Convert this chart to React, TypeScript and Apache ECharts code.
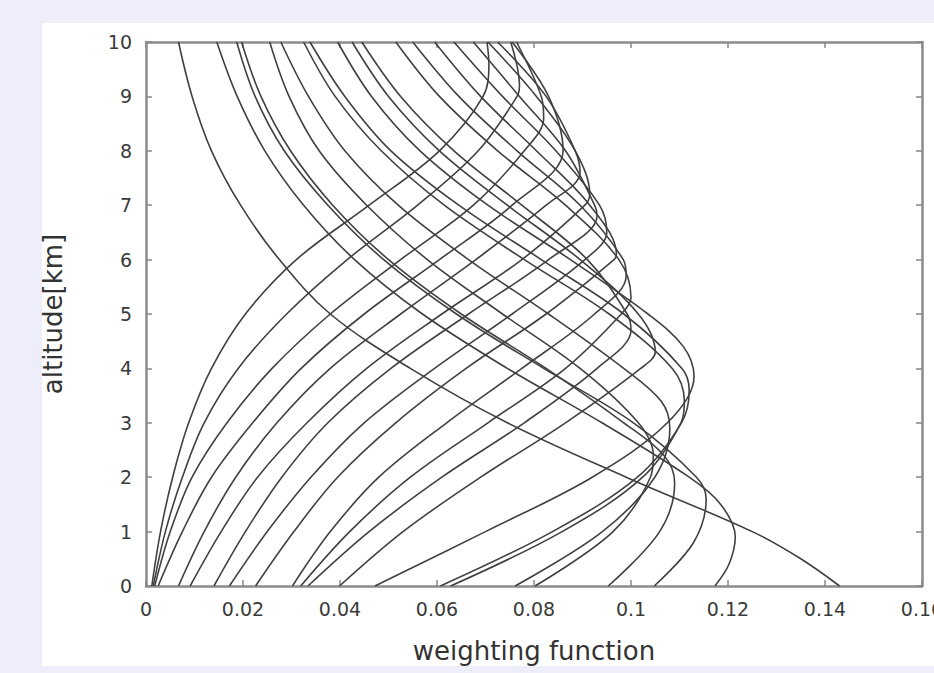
import React, { useEffect, useRef } from "react";
import * as echarts from "echarts";

// Weighting function curves: [weight, altitude km]
const curveA = [[0.143,0],[0.135,0.5],[0.125,1],[0.099,2],[0.0745,3],[0.0545,4],[0.038,5],[0.0275,6],[0.0195,7],[0.0135,8],[0.0095,9],[0.0067,10]];
const curve01 = [[0.1173,0],[0.1202,0.4],[0.1215,0.9],[0.1185,1.5],[0.112,2],[0.094,3],[0.0745,4],[0.057,5],[0.043,6],[0.0325,7],[0.0245,8],[0.0188,9],[0.0146,10]];
const curve02 = [[0.1048,0],[0.1129,0.8],[0.1155,1.6],[0.1135,2],[0.1005,3],[0.082,4],[0.064,5],[0.049,6],[0.0375,7],[0.0285,8],[0.0225,9],[0.0187,10]];
const curve03 = [[0.0953,0],[0.1059,1],[0.109,1.9],[0.1068,2.4],[0.0985,3],[0.0825,4],[0.065,5],[0.05,6],[0.0385,7],[0.0298,8],[0.0237,9],[0.0197,10]];
const curve04 = [[0.0802,0],[0.0963,1],[0.104,2],[0.1046,2.4],[0.1015,3],[0.0895,4],[0.0735,5],[0.058,6],[0.0455,7],[0.0357,8],[0.0295,9],[0.0255,10]];
const curve05 = [[0.0761,0],[0.0941,1],[0.1049,2],[0.108,2.9],[0.1062,3.4],[0.0985,4],[0.083,5],[0.0665,6],[0.052,7],[0.041,8],[0.0335,9],[0.0278,10]];
const curve06 = [[0.0628,0],[0.0858,1],[0.1024,2],[0.1103,3],[0.111,3.4],[0.1085,4],[0.0955,5],[0.078,6],[0.0615,7],[0.0485,8],[0.039,9],[0.0325,10]];
const curve07 = [[0.0607,0],[0.0838,1],[0.1013,2],[0.1104,3],[0.112,3.6],[0.1105,4],[0.0985,5],[0.0815,6],[0.0645,7],[0.0505,8],[0.041,9],[0.0338,10]];
const curve08 = [[0.0472,0],[0.07,1],[0.092,2],[0.1075,3],[0.113,3.85],[0.1108,4.4],[0.1035,5],[0.0875,6],[0.0705,7],[0.0565,8],[0.0465,9],[0.0395,10]];
const curve09 = [[0.0399,0],[0.053,1],[0.069,2],[0.0865,3],[0.102,4],[0.105,4.3],[0.1015,5],[0.0895,6],[0.0745,7],[0.0605,8],[0.05,9],[0.0425,10]];
const curve10 = [[0.0334,0],[0.046,1],[0.061,2],[0.078,3],[0.093,4],[0.1,4.7],[0.0992,5],[0.091,6],[0.0775,7],[0.0635,8],[0.0525,9],[0.0445,10]];
const curve11 = [[0.0319,0],[0.042,1],[0.0545,2],[0.0705,3],[0.0865,4],[0.098,5],[0.1,5.3],[0.0975,6],[0.0865,7],[0.0725,8],[0.0605,9],[0.0515,10]];
const curve12 = [[0.0302,0],[0.038,1],[0.048,2],[0.062,3],[0.0775,4],[0.0925,5],[0.099,5.7],[0.0984,6],[0.0895,7],[0.0765,8],[0.0645,9],[0.055,10]];
const curve13 = [[0.0226,0],[0.0305,1],[0.0395,2],[0.0515,3],[0.066,4],[0.0825,5],[0.0965,6],[0.097,6.1],[0.0915,7],[0.0805,8],[0.069,9],[0.0595,10]];
const curve14 = [[0.0172,0],[0.025,1],[0.034,2],[0.045,3],[0.0595,4],[0.0755,5],[0.0905,6],[0.095,6.5],[0.0935,7],[0.0845,8],[0.0735,9],[0.0635,10]];
const curve15 = [[0.014,0],[0.0205,1],[0.028,2],[0.0375,3],[0.0505,4],[0.0665,5],[0.083,6],[0.093,6.8],[0.0925,7],[0.0865,8],[0.077,9],[0.0675,10]];
const curve16 = [[0.0091,0],[0.0155,1],[0.023,2],[0.0332,3],[0.0455,4],[0.061,5],[0.0775,6],[0.0905,7],[0.0915,7.2],[0.0885,8],[0.0805,9],[0.0705,10]];
const curve17 = [[0.0067,0],[0.012,1],[0.0185,2],[0.027,3],[0.038,4],[0.0525,5],[0.068,6],[0.0825,7],[0.0895,7.6],[0.0885,8],[0.0825,9],[0.0725,10]];
const curve18 = [[0.0025,0],[0.0075,1],[0.0135,2],[0.022,3],[0.032,4],[0.045,5],[0.0605,6],[0.0755,7],[0.086,8],[0.083,9],[0.0755,10]];
const curve19 = [[0.0018,0],[0.005,1],[0.0095,2],[0.0167,3],[0.026,4],[0.038,5],[0.0525,6],[0.0675,7],[0.078,8],[0.082,8.6],[0.0815,9],[0.0764,10]];
const curve20 = [[0.0015,0],[0.004,1],[0.0075,2],[0.012,3],[0.019,4],[0.029,5],[0.0415,6],[0.056,7],[0.0685,8],[0.0765,9],[0.077,9.2],[0.0752,10]];
const curve21 = [[0.0012,0],[0.003,1],[0.0055,2],[0.0088,3],[0.0135,4],[0.0205,5],[0.031,6],[0.046,7],[0.0605,8],[0.0695,9],[0.0707,9.6],[0.0703,10]];

const curves = [curveA, curve01, curve02, curve03, curve04, curve05, curve06, curve07, curve08, curve09, curve10,
  curve11, curve12, curve13, curve14, curve15, curve16, curve17, curve18, curve19, curve20, curve21];

const xMin = 0, xMax = 0.16, xStep = 0.02;
const yMin = 0, yMax = 10, yStep = 1;

const FONT = "DejaVu Sans";
const labelFont = { fontFamily: FONT, fontSize: 19, color: "#3a3a3a" };
const nameFont = { fontFamily: FONT, fontSize: 26, color: "#333" };
const frame = { onZero: false, lineStyle: { color: "#8c8c8c", width: 2.5 } };
const tick = { inside: true, length: 6, lineStyle: { color: "#888", width: 1.5 } };

export default function App() {
  const ref = useRef<HTMLDivElement>(null);
  useEffect(() => {
    document.body.style.margin = "0";
    const chart = echarts.init(ref.current!, undefined, { renderer: "svg", width: 934, height: 673 });
    chart.setOption({
      animation: false,
      grid: { left: 146, right: 12, top: 42, bottom: 87, show: false, containLabel: false, outerBoundsMode: "none" },
      xAxis: [
        {
          type: "value", min: xMin, max: xMax, interval: xStep, position: "bottom",
          axisLine: { show: true, ...frame }, axisTick: tick, splitLine: { show: false },
          axisLabel: { ...labelFont, margin: 13 },
          name: "weighting function", nameLocation: "middle", nameGap: 52,
          nameTextStyle: nameFont,
        },
        {
          type: "value", min: xMin, max: xMax, interval: xStep, position: "top",
          axisLine: { show: true, ...frame }, axisTick: tick, splitLine: { show: false },
          axisLabel: { show: false },
        },
      ],
      yAxis: [
        {
          type: "value", min: yMin, max: yMax, interval: yStep, position: "left",
          axisLine: { show: true, ...frame }, axisTick: tick, splitLine: { show: false },
          axisLabel: { ...labelFont, margin: 14 },
          name: "altitude[km]", nameLocation: "middle", nameGap: 80, nameRotate: 90,
          nameTextStyle: nameFont,
        },
        {
          type: "value", min: yMin, max: yMax, interval: yStep, position: "right",
          axisLine: { show: true, ...frame }, axisTick: tick, splitLine: { show: false },
          axisLabel: { show: false },
        },
      ],
      series: curves.map((c, i) => ({
        type: "line",
        name: "w" + i,
        data: c,
        xAxisIndex: 0,
        yAxisIndex: 0,
        showSymbol: false,
        smooth: 0.35,
        silent: true,
        lineStyle: { color: "#404040", width: 1.6 },
      })),
    });
    return () => chart.dispose();
  }, []);
  return (
    <div style={{ position: "fixed", left: 0, top: 0, width: 934, height: 673, background: "#eeeefa", overflow: "hidden" }}>
      <div style={{ position: "absolute", left: 42, top: 23, width: 892, height: 643, background: "#ffffff" }} />
      <div ref={ref} style={{ position: "absolute", left: 0, top: 0, width: 934, height: 673 }} />
    </div>
  );
}
